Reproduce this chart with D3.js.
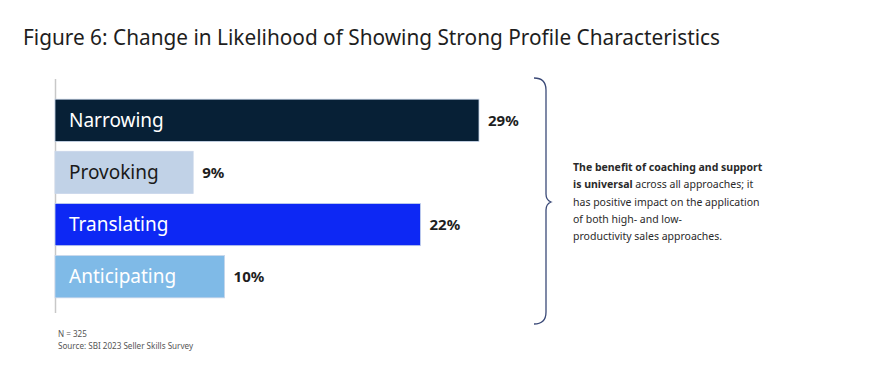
<!DOCTYPE html>
<html>
<head>
<meta charset="utf-8">
<script src="https://cdn.jsdelivr.net/npm/d3@7"></script>
<style>
  body { margin: 0; background: #fff; }
  svg { display: block; font-family: "Noto Sans", "Open Sans", sans-serif; }
</style>
</head>
<body>
<script>
// Chart data
var categories = ["Narrowing", "Provoking", "Translating", "Anticipating"];
var pctLabels  = ["29%", "9%", "22%", "10%"];
// bar lengths as drawn in the figure (not exactly proportional to the labels)
var barValues  = [29, 9.45, 25, 11.6];
var barColors  = ["#072036", "#c1d2e7", "#0d28f4", "#7fbae7"];

var noteLines = [
    [{t: "The benefit of coaching and support", b: true}],
    [{t: "is universal", b: true}, {t: " across all approaches; it", b: false}],
    [{t: "has positive impact on the application", b: false}],
    [{t: "of both high- and low-", b: false}],
    [{t: "productivity sales approaches.", b: false}]
];

var W = 869, H = 365;

var svg = d3.select("body").append("svg")
    .attr("width", W)
    .attr("height", H);

// title
svg.append("text")
    .attr("x", 23)
    .attr("y", 45)
    .attr("font-size", 21)
    .attr("fill", "#1e1e1e")
    .attr("textLength", 697)
    .attr("lengthAdjust", "spacingAndGlyphs")
    .text("Figure 6: Change in Likelihood of Showing Strong Profile Characteristics");

var x = d3.scaleLinear().domain([0, 29]).range([55, 479]);
var y = d3.scaleBand().domain(categories).range([95, 302]).paddingInner(0.19).paddingOuter(0.08);

// axis line
svg.append("line")
    .attr("x1", 55.5).attr("x2", 55.5)
    .attr("y1", 79).attr("y2", 313)
    .attr("stroke", "#c8c8c8")
    .attr("stroke-width", 1.5);

var g = svg.selectAll(".bar")
    .data(categories)
    .enter().append("g")
    .attr("class", "bar");

g.append("rect")
    .attr("x", x(0))
    .attr("y", function(d) { return y(d); })
    .attr("width", function(d, i) { return x(barValues[i]) - x(0); })
    .attr("height", y.bandwidth())
    .attr("fill", function(d, i) { return barColors[i]; })
    .attr("stroke", "#c9d6ea")
    .attr("stroke-width", 0.8);

g.append("text")
    .attr("x", 69)
    .attr("y", function(d) { return y(d) + y.bandwidth() / 2; })
    .attr("dy", "0.35em")
    .attr("font-size", 19)
    .attr("fill", function(d, i) { return i === 1 ? "#1a1a1a" : "#ffffff"; })
    .text(function(d) { return d; });

g.append("text")
    .attr("x", function(d, i) { return x(barValues[i]) + 9; })
    .attr("y", function(d) { return y(d) + y.bandwidth() / 2; })
    .attr("dy", "0.35em")
    .attr("font-size", 15)
    .attr("font-weight", "bold")
    .attr("fill", "#1e1e1e")
    .text(function(d, i) { return pctLabels[i]; });

// curly brace
var bx = 546, bTop = 78, bBot = 324, bMid = 202;
var brace = "M" + (bx - 12) + "," + bTop +
    " Q" + bx + "," + bTop + " " + bx + "," + (bTop + 12) +
    " L" + bx + "," + (bMid - 8) +
    " Q" + bx + "," + (bMid - 2) + " " + (bx + 5) + "," + bMid +
    " Q" + bx + "," + (bMid + 2) + " " + bx + "," + (bMid + 8) +
    " L" + bx + "," + (bBot - 12) +
    " Q" + bx + "," + bBot + " " + (bx - 12) + "," + bBot;
svg.append("path")
    .attr("d", brace)
    .attr("fill", "none")
    .attr("stroke", "#3b4a78")
    .attr("stroke-width", 1.3);

// annotation
var note = svg.append("text")
    .attr("font-size", 10.5)
    .attr("fill", "#2a2a2a");
noteLines.forEach(function(line, i) {
    var t = note.append("tspan")
        .attr("x", 573)
        .attr("y", 171 + i * 17.3);
    line.forEach(function(part, j) {
        var s = j === 0 ? t : note.append("tspan");
        s.attr("font-weight", part.b ? "bold" : "normal").text(part.t);
    });
});

// footnotes
svg.append("text")
    .attr("x", 58).attr("y", 337)
    .attr("font-size", 8.1)
    .attr("fill", "#555")
    .text("N = 325");
svg.append("text")
    .attr("x", 58).attr("y", 349)
    .attr("font-size", 8.1)
    .attr("fill", "#555")
    .text("Source: SBI 2023 Seller Skills Survey");
</script>
</body>
</html>
